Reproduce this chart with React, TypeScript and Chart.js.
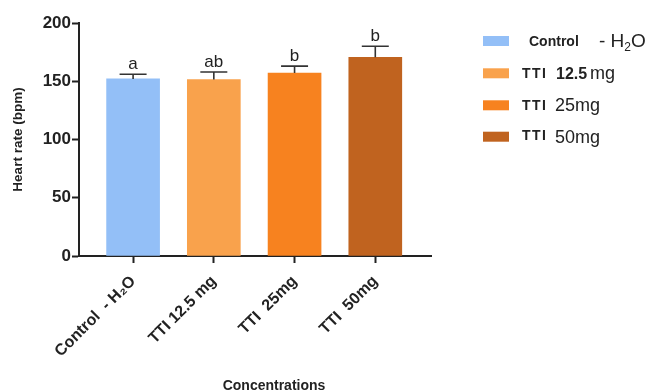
import React, { useEffect, useRef } from "react";
import { Chart, registerables } from "chart.js";

Chart.register(...registerables);

const FONT = "'Liberation Sans', Arial, Helvetica, sans-serif";

const categories = ["Control  - H₂O", "TTI 12.5 mg", "TTI  25mg", "TTI  50mg"];
const means = [152, 151.5, 157, 170.5];
const sds = [4, 6.5, 6, 9.5];
const letters = ["a", "ab", "b", "b"];
const barColors = ["#93BFF7", "#F9A24C", "#F7821F", "#C0631F"];
const yTicks = [0, 50, 100, 150, 200];

type Run = { t: string; size: number; bold?: boolean; dx: number; dy?: number; ls?: number };
const legendRuns: Run[][] = [
  [
    { t: "Control", size: 14, bold: true, dx: 46, dy: -1.5 },
    { t: "- H", size: 19, dx: 116 },
    { t: "2", size: 12, dx: 0, dy: 4 },
    { t: "O", size: 19, dx: 0 },
  ],
  [
    { t: "TTI", size: 14, bold: true, dx: 39, dy: -1.5, ls: 1.5 },
    { t: "12.5", size: 16, bold: true, dx: 73 },
    { t: "mg", size: 18, dx: 107 },
  ],
  [
    { t: "TTI", size: 14, bold: true, dx: 39, dy: -1, ls: 1.5 },
    { t: "25mg", size: 18, dx: 72 },
  ],
  [
    { t: "TTI", size: 14, bold: true, dx: 39, dy: -3, ls: 1.5 },
    { t: "50mg", size: 18, dx: 72 },
  ],
];

const errorPlugin = {
  id: "errorLetters",
  afterDatasetsDraw(chart: any) {
    const ctx = chart.ctx;
    const meta = chart.getDatasetMeta(0);
    const y = chart.scales.y;
    ctx.save();
    meta.data.forEach((el: any, i: number) => {
      const top = y.getPixelForValue(means[i] + sds[i]);
      const half = 13.5;
      ctx.strokeStyle = "#333";
      ctx.lineWidth = 1.6;
      ctx.beginPath();
      ctx.moveTo(el.x, el.y);
      ctx.lineTo(el.x, top);
      ctx.moveTo(el.x - half, top);
      ctx.lineTo(el.x + half, top);
      ctx.stroke();
      ctx.fillStyle = "#222";
      ctx.font = `17px ${FONT}`;
      ctx.textAlign = "center";
      ctx.textBaseline = "alphabetic";
      ctx.fillText(letters[i], el.x, top - 5);
    });
    ctx.restore();
  },
  afterDraw(chart: any) {
    const ctx = chart.ctx;
    const ca = chart.chartArea;
    ctx.save();
    ctx.fillStyle = "#222";
    ctx.font = `bold 14px ${FONT}`;
    ctx.textAlign = "center";
    ctx.textBaseline = "alphabetic";
    ctx.fillText("Concentrations", 274, 390);
    const lx = ca.right + 52;
    const rowY = [41, 73.3, 105.3, 136.7];
    legendRuns.forEach((runs, i) => {
      ctx.fillStyle = barColors[i];
      ctx.fillRect(lx, rowY[i] - 5, 26, 10);
      let cx = lx;
      runs.forEach((r, j) => {
        ctx.font = `${r.bold ? "bold " : ""}${r.size}px ${FONT}`;
        (ctx as any).letterSpacing = `${r.ls || 0}px`;
        ctx.fillStyle = "#222";
        ctx.textAlign = "left";
        const x = r.dx > 0 || j === 0 ? lx + r.dx : cx;
        ctx.fillText(r.t, x, rowY[i] + 6 + (r.dy || 0));
        cx = x + ctx.measureText(r.t).width;
      });
      (ctx as any).letterSpacing = "0px";
    });
    ctx.restore();
  },
};

export default function App() {
  const ref = useRef<HTMLCanvasElement | null>(null);
  useEffect(() => {
    if (!ref.current) return;
    const chart = new Chart(ref.current, {
      type: "bar",
      data: {
        datasets: [
          {
            data: means.map((v, i) => ({ x: i, y: v })),
            backgroundColor: barColors,
            borderWidth: 0,
            barThickness: 53,
          },
        ],
      },
      options: {
        responsive: false,
        animation: false,
        layout: { padding: { top: 23, right: 220, left: 0, bottom: 0 } },
        plugins: { legend: { display: false }, tooltip: { enabled: false } },
        scales: {
          x: {
            type: "linear",
            min: -0.67,
            max: 3.69,
            offset: false,
            afterFit(s: any) {
              s.height = 135;
            },
            afterBuildTicks(s: any) {
              s.ticks = categories.map((_, i) => ({ value: i }));
            },
            grid: {
              offset: false,
              drawOnChartArea: false,
              drawTicks: true,
              tickLength: 7,
              tickWidth: 2,
              color: "#222",
            },
            border: { display: true, color: "#222", width: 2 },
            ticks: {
              autoSkip: false,
              minRotation: 45,
              maxRotation: 45,
              padding: 9,
              color: "#222",
              font: { family: FONT, size: 16, weight: "bold" },
              callback: (v: any) => (Number.isInteger(v) && categories[v] !== undefined ? categories[v] : ""),
            },
          },
          y: {
            min: 0,
            max: 200,
            afterFit(s: any) {
              s.width = 79;
            },
            afterBuildTicks(s: any) {
              s.ticks = yTicks.map((v) => ({ value: v }));
            },
            grid: {
              drawOnChartArea: false,
              drawTicks: true,
              tickLength: 7,
              tickWidth: 2,
              color: "#222",
            },
            border: { display: true, color: "#222", width: 2 },
            ticks: {
              padding: 1,
              color: "#222",
              font: { family: FONT, size: 17, weight: "bold" },
            },
            title: {
              display: true,
              text: "Heart rate (bpm)",
              color: "#222",
              font: { family: FONT, size: 13.5, weight: "bold" },
              padding: { top: 10, bottom: 0 },
            },
          },
        },
      },
      plugins: [errorPlugin],
    });
    return () => chart.destroy();
  }, []);
  return (
    <div style={{ position: "fixed", left: 0, top: 0, width: 651, height: 391, background: "#fff" }}>
      <canvas ref={ref} width={651} height={391} style={{ display: "block" }} />
    </div>
  );
}
